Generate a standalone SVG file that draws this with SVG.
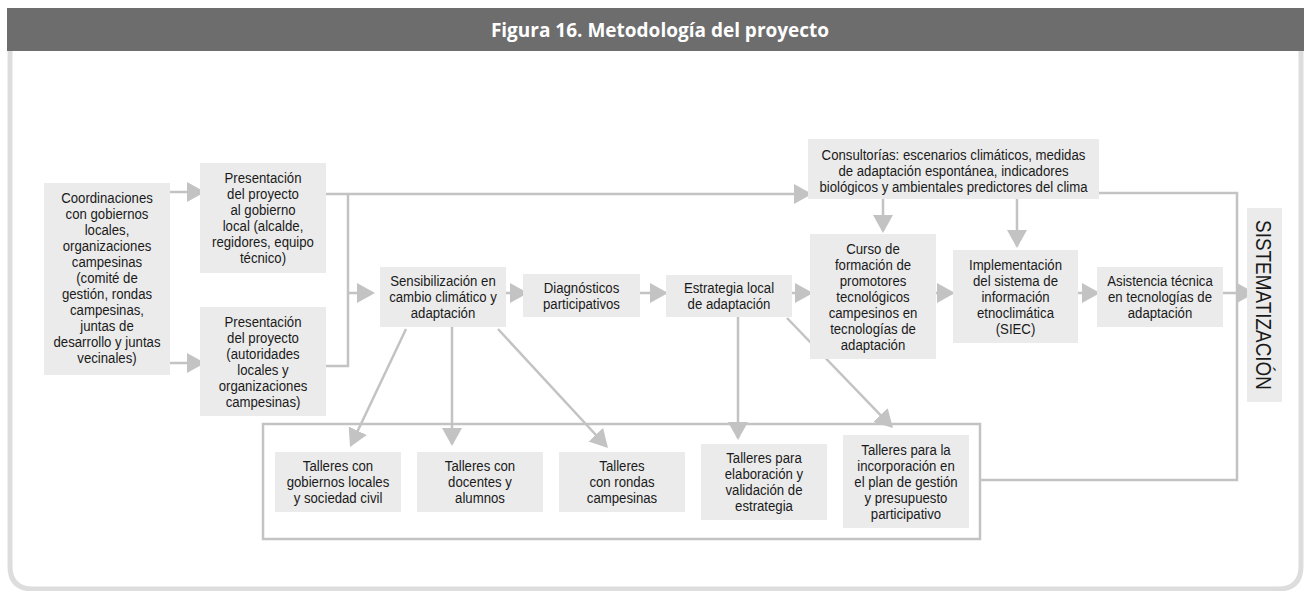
<svg xmlns="http://www.w3.org/2000/svg" width="1304" height="591" viewBox="0 0 1304 591">
<style>
.box{fill:#ebebeb}
.t{font-family:"Liberation Sans",Arial,sans-serif;font-size:15px;fill:#1a1a1a;text-anchor:middle}
.c{fill:none;stroke:#c3c3c3;stroke-width:2.5}
.a{marker-end:url(#ah)}
</style>
<defs>
<marker id="ah" viewBox="0 0 18 20" markerWidth="18" markerHeight="20" refX="16" refY="10" orient="auto" markerUnits="userSpaceOnUse">
<path d="M0,0 L18,10 L0,20 Z" fill="#c3c3c3"/>
</marker>
</defs>
<rect width="1304" height="591" fill="#ffffff"/>
<path d="M10,51 V566 Q10,589 33,589 H1278 Q1301,589 1301,566 V51" fill="none" stroke="#dddddd" stroke-width="5"/>
<rect x="7" y="8" width="1297" height="43" fill="#6d6d6d"/>
<text x="660" y="37" font-family="'Open Sans',sans-serif" font-weight="bold" font-size="19" fill="#ffffff" text-anchor="middle">Figura 16. Metodología del proyecto</text>

<g id="connectors">
<path class="c a" d="M170,192 H203"/>
<path class="c a" d="M170,363 H203"/>
<path class="c" d="M326,194 H348 V366 H326"/>
<path class="c a" d="M348,293 H373"/>
<path class="c a" d="M348,194 H810"/>
<path class="c a" d="M506,293 H526"/>
<path class="c a" d="M640,293 H666"/>
<path class="c a" d="M792,293 H811"/>
<path class="c a" d="M936,293 H953"/>
<path class="c a" d="M1078,293 H1098"/>
<path class="c a" d="M1223,293 H1253"/>
<path class="c a" d="M883,199 V231"/>
<path class="c a" d="M1017,199 V246"/>
<path class="c" d="M1099,193 H1237 V480 H980"/>
<path class="c a" d="M406,329 L350.9,445.2"/>
<path class="c a" d="M452,327 V444"/>
<path class="c a" d="M498,329 L606.6,446.5"/>
<path class="c a" d="M738,317 V438"/>
<path class="c a" d="M787,318 L891.6,426.6"/>
<rect class="c" x="263" y="424" width="717" height="115"/>
</g>

<g id="n-coord">
<rect class="box" x="44" y="183" width="126" height="192"/>
<text class="t" transform="translate(107,0) scale(0.88,1)"><tspan x="0" y="203">Coordinaciones</tspan><tspan x="0" dy="16">con gobiernos</tspan><tspan x="0" dy="16">locales,</tspan><tspan x="0" dy="16">organizaciones</tspan><tspan x="0" dy="16">campesinas</tspan><tspan x="0" dy="16">(comité de</tspan><tspan x="0" dy="16">gestión, rondas</tspan><tspan x="0" dy="16">campesinas,</tspan><tspan x="0" dy="16">juntas de</tspan><tspan x="0" dy="16">desarrollo y juntas</tspan><tspan x="0" dy="16">vecinales)</tspan></text>
</g>
<g id="n-pres1">
<rect class="box" x="200" y="163" width="126" height="110"/>
<text class="t" transform="translate(263,0) scale(0.88,1)"><tspan x="0" y="183.5">Presentación</tspan><tspan x="0" dy="16">del proyecto</tspan><tspan x="0" dy="16">al gobierno</tspan><tspan x="0" dy="16">local (alcalde,</tspan><tspan x="0" dy="16">regidores, equipo</tspan><tspan x="0" dy="16">técnico)</tspan></text>
</g>
<g id="n-pres2">
<rect class="box" x="200" y="307" width="126" height="109"/>
<text class="t" transform="translate(263,0) scale(0.88,1)"><tspan x="0" y="327">Presentación</tspan><tspan x="0" dy="16">del proyecto</tspan><tspan x="0" dy="16">(autoridades</tspan><tspan x="0" dy="16">locales y</tspan><tspan x="0" dy="16">organizaciones</tspan><tspan x="0" dy="16">campesinas)</tspan></text>
</g>
<g id="n-sens">
<rect class="box" x="380" y="267" width="126" height="60"/>
<text class="t" transform="translate(443,0) scale(0.88,1)"><tspan x="0" y="286.5">Sensibilización en</tspan><tspan x="0" dy="16">cambio climático y</tspan><tspan x="0" dy="16">adaptación</tspan></text>
</g>
<g id="n-diag">
<rect class="box" x="523" y="274" width="117" height="43"/>
<text class="t" transform="translate(581.5,0) scale(0.88,1)"><tspan x="0" y="293">Diagnósticos</tspan><tspan x="0" dy="16">participativos</tspan></text>
</g>
<g id="n-estr">
<rect class="box" x="666" y="275" width="126" height="42"/>
<text class="t" transform="translate(729,0) scale(0.88,1)"><tspan x="0" y="293.5">Estrategia local</tspan><tspan x="0" dy="16">de adaptación</tspan></text>
</g>
<g id="n-consult">
<rect class="box" x="808" y="139" width="291" height="60"/>
<text class="t" transform="translate(953.5,0) scale(0.88,1)"><tspan x="0" y="160">Consultorías: escenarios climáticos, medidas</tspan><tspan x="0" dy="16">de adaptación espontánea, indicadores</tspan><tspan x="0" dy="16">biológicos y ambientales predictores del clima</tspan></text>
</g>
<g id="n-curso">
<rect class="box" x="810" y="234" width="126" height="125"/>
<text class="t" transform="translate(873,0) scale(0.88,1)"><tspan x="0" y="254">Curso de</tspan><tspan x="0" dy="16">formación de</tspan><tspan x="0" dy="16">promotores</tspan><tspan x="0" dy="16">tecnológicos</tspan><tspan x="0" dy="16">campesinos en</tspan><tspan x="0" dy="16">tecnologías de</tspan><tspan x="0" dy="16">adaptación</tspan></text>
</g>
<g id="n-impl">
<rect class="box" x="953" y="250" width="125" height="93"/>
<text class="t" transform="translate(1015.5,0) scale(0.88,1)"><tspan x="0" y="270">Implementación</tspan><tspan x="0" dy="16">del sistema de</tspan><tspan x="0" dy="16">información</tspan><tspan x="0" dy="16">etnoclimática</tspan><tspan x="0" dy="16">(SIEC)</tspan></text>
</g>
<g id="n-asist">
<rect class="box" x="1097" y="267" width="126" height="60"/>
<text class="t" transform="translate(1160,0) scale(0.88,1)"><tspan x="0" y="286.5">Asistencia técnica</tspan><tspan x="0" dy="16">en tecnologías de</tspan><tspan x="0" dy="16">adaptación</tspan></text>
</g>
<g id="n-sist">
<rect class="box" x="1247" y="208" width="35" height="194"/>
<text font-family="'Liberation Sans',Arial,sans-serif" font-size="22" fill="#1a1a1a" text-anchor="middle" transform="translate(1264.5,305) rotate(90) scale(0.86,1)" x="0" y="8">SISTEMATIZACIÓN</text>
</g>
<g id="n-gob">
<rect class="box" x="275" y="452" width="126" height="60"/>
<text class="t" transform="translate(338,0) scale(0.88,1)"><tspan x="0" y="471.5">Talleres con</tspan><tspan x="0" dy="16">gobiernos locales</tspan><tspan x="0" dy="16">y sociedad civil</tspan></text>
</g>
<g id="n-doc">
<rect class="box" x="417" y="452" width="126" height="60"/>
<text class="t" transform="translate(480,0) scale(0.88,1)"><tspan x="0" y="471.5">Talleres con</tspan><tspan x="0" dy="16">docentes y</tspan><tspan x="0" dy="16">alumnos</tspan></text>
</g>
<g id="n-rondas">
<rect class="box" x="559" y="452" width="126" height="60"/>
<text class="t" transform="translate(622,0) scale(0.88,1)"><tspan x="0" y="471.5">Talleres</tspan><tspan x="0" dy="16">con rondas</tspan><tspan x="0" dy="16">campesinas</tspan></text>
</g>
<g id="n-elab">
<rect class="box" x="701" y="444" width="126" height="76"/>
<text class="t" transform="translate(764,0) scale(0.88,1)"><tspan x="0" y="463.5">Talleres para</tspan><tspan x="0" dy="16">elaboración y</tspan><tspan x="0" dy="16">validación de</tspan><tspan x="0" dy="16">estrategia</tspan></text>
</g>
<g id="n-incorp">
<rect class="box" x="843" y="435" width="126" height="93"/>
<text class="t" transform="translate(906,0) scale(0.88,1)"><tspan x="0" y="455">Talleres para la</tspan><tspan x="0" dy="16">incorporación en</tspan><tspan x="0" dy="16">el plan de gestión</tspan><tspan x="0" dy="16">y presupuesto</tspan><tspan x="0" dy="16">participativo</tspan></text>
</g>
</svg>
